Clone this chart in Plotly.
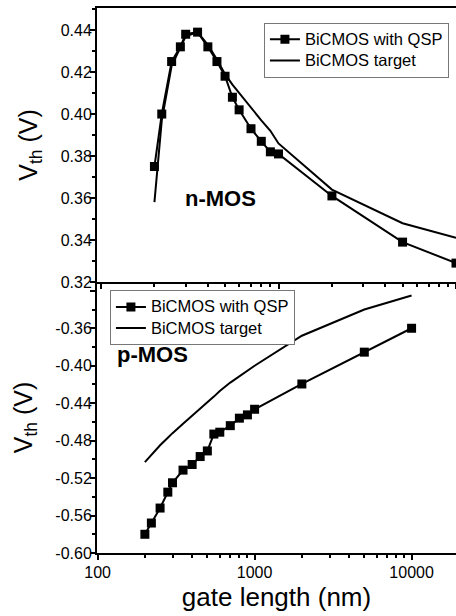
import plotly.graph_objects as go
from plotly.subplots import make_subplots

# ---- data ----
gate_length = [200, 220, 250, 280, 300, 350, 400, 450, 500, 550, 600, 700, 800, 900, 1000, 2000, 5000, 10000]

n_qsp = [0.375, 0.400, 0.425, 0.432, 0.438, 0.439, 0.432, 0.425, 0.418, 0.408, 0.402, 0.393, 0.387, 0.382, 0.381, 0.361, 0.339, 0.329]
n_target = [0.358, 0.397, 0.423, 0.432, 0.437, 0.439, 0.433, 0.426, 0.419, 0.414, 0.410, 0.403, 0.397, 0.392, 0.386, 0.364, 0.348, 0.341]

p_qsp = [-0.580, -0.568, -0.552, -0.535, -0.525, -0.5115, -0.5055, -0.497, -0.491, -0.473, -0.471, -0.464, -0.456, -0.4525, -0.4465, -0.4195, -0.3855, -0.360]
p_target = [-0.503, -0.495, -0.485, -0.477, -0.472, -0.462, -0.453, -0.446, -0.439, -0.433, -0.427, -0.418, -0.411, -0.405, -0.400, -0.368, -0.340, -0.325]

series_names = ["BiCMOS with QSP", "BiCMOS target"]

n_yticks = [0.32, 0.34, 0.36, 0.38, 0.40, 0.42, 0.44]
n_yticklabels = ["0.32", "0.34", "0.36", "0.38", "0.40", "0.42", "0.44"]
n_yminor = [0.33, 0.35, 0.37, 0.39, 0.41, 0.43, 0.45]

p_yticks = [-0.60, -0.56, -0.52, -0.48, -0.44, -0.40, -0.36, -0.32]
p_yticklabels = ["-0.60", "-0.56", "-0.52", "-0.48", "-0.44", "-0.40", "-0.36", ""]
p_yminor = [-0.58, -0.54, -0.50, -0.46, -0.42, -0.38, -0.34]

x_major = [100, 1000, 10000]
x_major_labels = ["100", "1000", "10000"]
x_minor = [200, 300, 400, 500, 600, 700, 800, 900,
           2000, 3000, 4000, 5000, 6000, 7000, 8000, 9000, 20000]

FONT = "Arial, Liberation Sans, sans-serif"


def leg_name(s):
    return '<span style="font-size:16.5px">' + s + '</span>'


fig = make_subplots(rows=2, cols=1, vertical_spacing=0, row_heights=[274, 271])

fig.add_trace(go.Scatter(x=gate_length, y=n_qsp, mode="lines+markers", name=leg_name(series_names[0]),
                         line=dict(color="black", width=2),
                         marker=dict(symbol="square", size=9, color="black"),
                         legend="legend"), row=1, col=1)
fig.add_trace(go.Scatter(x=gate_length, y=n_target, mode="lines", name=leg_name(series_names[1]),
                         line=dict(color="black", width=2), legend="legend"), row=1, col=1)
fig.add_trace(go.Scatter(x=gate_length, y=p_qsp, mode="lines+markers", name=leg_name(series_names[0]),
                         line=dict(color="black", width=2),
                         marker=dict(symbol="square", size=9, color="black"),
                         legend="legend2"), row=2, col=1)
fig.add_trace(go.Scatter(x=gate_length, y=p_target, mode="lines", name=leg_name(series_names[1]),
                         line=dict(color="black", width=2), legend="legend2"), row=2, col=1)

axis_common = dict(showline=True, linecolor="black", linewidth=2, showgrid=False, zeroline=False,
                   ticks="outside", ticklen=5, tickwidth=1.5, tickcolor="black",
                   tickfont=dict(family=FONT, size=16, color="black"))

fig.update_xaxes(type="log", range=[1.9775, 4.0], tickvals=x_major, ticktext=x_major_labels,
                 showticklabels=False, mirror=True,
                 minor=dict(tickvals=x_minor, ticks="outside", ticklen=3, tickwidth=1.5, tickcolor="black"),
                 **axis_common, row=1, col=1)
fig.update_xaxes(type="log", range=[1.996, 4.283], tickvals=x_major, ticktext=x_major_labels,
                 ticklabelstandoff=-1,
                 minor=dict(tickvals=x_minor, ticks="outside", ticklen=3, tickwidth=1.5, tickcolor="black"),
                 title=dict(text="gate length (nm)", font=dict(family=FONT, size=26, color="black"), standoff=8),
                 **axis_common, row=2, col=1)

fig.update_yaxes(range=[0.32, 0.4505], tickvals=n_yticks, ticktext=n_yticklabels,
                 ticklabelstandoff=-5,
                 minor=dict(tickvals=n_yminor, ticks="outside", ticklen=3, tickwidth=1.5, tickcolor="black"),
                 title=dict(text="V<sub>th</sub> (V)", font=dict(family=FONT, size=25, color="black"), standoff=16),
                 **axis_common, row=1, col=1)
fig.update_yaxes(range=[-0.60, -0.3106], tickvals=p_yticks, ticktext=p_yticklabels,
                 ticklabelstandoff=-5,
                 minor=dict(tickvals=p_yminor, ticks="outside", ticklen=3, tickwidth=1.5, tickcolor="black"),
                 title=dict(text="V<sub>th</sub> (V)", font=dict(family=FONT, size=25, color="black"), standoff=16),
                 **axis_common, row=2, col=1)

fig.add_annotation(text="<b>n-MOS</b>", x=0.345, y=0.65, xref="paper", yref="paper",
                   xanchor="center", yanchor="middle",
                   showarrow=False, font=dict(family=FONT, size=22, color="black"))
fig.add_annotation(text="<b>p-MOS</b>", x=0.155, y=0.365, xref="paper", yref="paper",
                   xanchor="center", yanchor="middle",
                   showarrow=False, font=dict(family=FONT, size=22, color="black"))

legend_style = dict(bgcolor="white", bordercolor="#777777", borderwidth=1,
                    font=dict(family=FONT, size=14, color="black"),
                    xanchor="left", yanchor="top", tracegroupgap=0)

fig.update_layout(
    width=456, height=616,
    margin=dict(l=97, r=0, t=8, b=63),
    paper_bgcolor="white", plot_bgcolor="white",
    font=dict(family=FONT, color="black"),
    legend=dict(x=0.465, y=0.973, **legend_style),
    legend2=dict(x=0.036, y=0.482, **legend_style),
)

fig.write_html("out.html", config={"displayModeBar": False},
               post_script="document.body.style.margin='0';")
